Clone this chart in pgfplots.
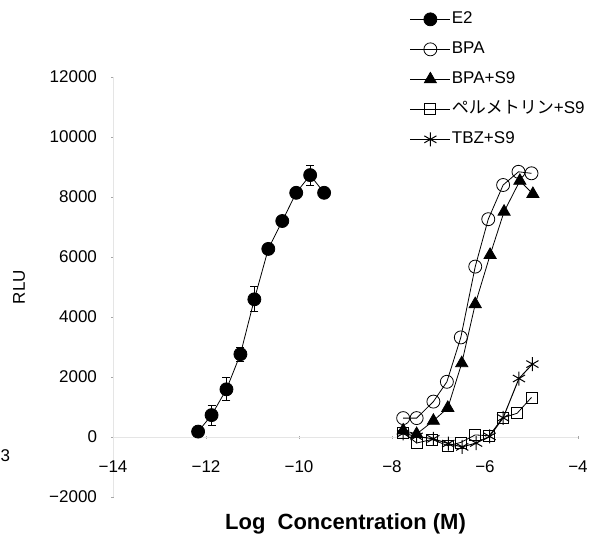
\documentclass[border=0pt]{standalone}
\usepackage{fontspec}
\setmainfont{Liberation Sans}
\newfontfamily\jp{Noto Sans CJK JP}
\usepackage{pgfplots}
\pgfplotsset{compat=1.18}
\newcommand{\fs}{\fontsize{17}{20}\selectfont}

\begin{document}
\begin{tikzpicture}
\begin{axis}[
    scale only axis,
    width=465pt, height=420pt,
    xmin=-14, xmax=-4, ymin=-2000, ymax=12000,
    axis x line=middle, axis y line=left,
    hide obscured x ticks=false, hide obscured y ticks=false,
    scaled y ticks=false,
    axis line style={draw=black!10, -},
    tick style={black!35},
    major tick length=3pt,
    xtick={-14,-12,-10,-8,-6,-4},
    xticklabels={−14,−12,−10,−8,−6,−4},
    ytick={-2000,0,2000,4000,6000,8000,10000,12000},
    yticklabels={−2000,0,2000,4000,6000,8000,10000,12000},
    xticklabel style={font=\fs, yshift=-19pt},
    yticklabel style={font=\fs, xshift=-11pt},
    clip=false,
    legend style={draw=none, fill=none, font=\fs,
        at={(0.638,1.158)}, anchor=north west,
        row sep=13pt, inner sep=0pt,
        nodes={inner sep=1pt, text height=12pt, text depth=3pt}},
    legend cell align=left,
    legend image code/.code={
        \draw[mark repeat=2, mark phase=2, #1]
            plot coordinates {(0pt,0pt) (20pt,0pt) (40pt,0pt)};},
    every axis plot/.append style={black, line width=0.8pt},
]
% E2
\addplot[mark=*, mark size=6.5pt, mark options={fill=black},
    error bars/.cd, y dir=both, y explicit, error mark=-,
    error mark options={rotate=90, black, mark size=4pt, line width=1pt}]
    table[x=x, y=y, y error=e] {
    x       y     e
    -12.17  180   100
    -11.88  730   330
    -11.56  1590  380
    -11.26  2760  230
    -10.96  4590  420
    -10.66  6270  0
    -10.36  7200  0
    -10.06  8140  0
    -9.76   8730  330
    -9.46   8140  0
};
\addlegendentry{E2}
% BPA
\addplot[mark=o, mark size=6.5pt] coordinates {
    (-7.76,630) (-7.47,630) (-7.11,1180) (-6.82,1840) (-6.52,3320)
    (-6.21,5680) (-5.93,7260) (-5.61,8400) (-5.28,8840) (-5.00,8790)
};
\addlegendentry{BPA}
% BPA+S9
\addplot[mark=triangle*, mark size=7pt, mark options={fill=black}] coordinates {
    (-7.76,220) (-7.47,100) (-7.11,540) (-6.80,970) (-6.50,2460)
    (-6.21,4430) (-5.89,6070) (-5.59,7510) (-5.25,8540) (-4.97,8100)
};
\addlegendentry{BPA+S9}
% permethrin+S9
\addplot[mark=square, mark size=5.5pt] coordinates {
    (-7.76,150) (-7.47,-200) (-7.14,-80) (-6.80,-290) (-6.52,-180)
    (-6.21,70) (-5.91,40) (-5.62,640) (-5.31,790) (-5.00,1320)
};
\addlegendentry{{\jp ペルメトリン}+S9}
% TBZ+S9
\addplot[mark=asterisk, mark size=7pt, line width=1pt] coordinates {
    (-7.76,120) (-7.47,20) (-7.11,-60) (-6.79,-220) (-6.49,-330)
    (-6.19,-200) (-5.90,20) (-5.61,640) (-5.27,1950) (-4.98,2430)
};
\addlegendentry{TBZ+S9}

\node[font=\fontsize{22}{26}\selectfont\bfseries] at (axis cs:-9,-2900) {Log\ \ Concentration (M)};
\node[font=\fs, rotate=90] at (axis cs:-16.02,5000) {RLU};
\node[font=\fs, anchor=west, inner sep=0pt] at (axis cs:-16.42,-630) {3};
\coordinate (bl) at (axis cs:-16.430,-3500);
\coordinate (tr) at (axis cs:-3.6344,14566.7);
\end{axis}
\pgfresetboundingbox
\path (bl) rectangle (tr);
\end{tikzpicture}
\end{document}
